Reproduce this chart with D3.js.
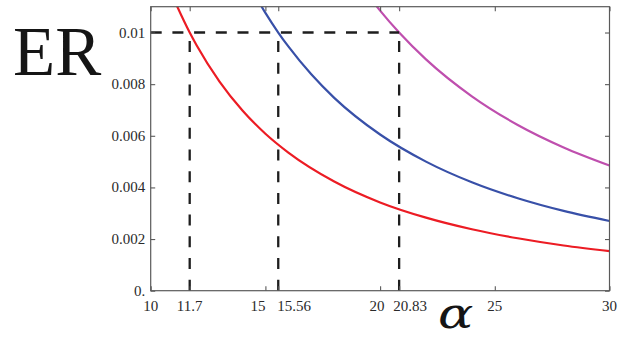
<!DOCTYPE html>
<html>
<head>
<meta charset="utf-8">
<script src="https://cdn.jsdelivr.net/npm/d3@7"></script>
<style>
  html, body { margin: 0; padding: 0; background: #fff; }
  svg { display: block; }
</style>
</head>
<body>
<svg id="chart" width="626" height="339"></svg>
<script>
// ---- data ----
const redAlpha   = [11.0, 11.7, 12, 13, 14, 15, 16, 18, 20, 22, 24, 26, 28, 30];
const redER      = [0.01131, 0.0100, 0.00951, 0.00810, 0.00698, 0.00608, 0.00535, 0.00423, 0.00342, 0.00283, 0.00238, 0.00203, 0.00175, 0.00153];
const blueAlpha  = [14.6, 15, 15.56, 16, 17, 18, 20, 22, 24, 26, 28, 30];
const blueER     = [0.01136, 0.01076, 0.0100, 0.00946, 0.00838, 0.00747, 0.00605, 0.00500, 0.00420, 0.00358, 0.00309, 0.00270];
const magAlpha   = [19.6, 20, 20.83, 22, 24, 26, 28, 30];
const magER      = [0.01130, 0.01085, 0.0100, 0.00896, 0.00753, 0.00642, 0.00555, 0.00485];
const threshold  = 0.01;
const crossings  = [11.7, 15.56, 20.83];
const xTicks     = [10, 11.7, 15, 15.56, 20, 20.83, 25, 30];
const xTickLabels= ["10", "11.7", "15", "15.56", "20", "20.83", "25", "30"];
const yTicks     = [0, 0.002, 0.004, 0.006, 0.008, 0.01];
const yTickLabels= ["0.", "0.002", "0.004", "0.006", "0.008", "0.01"];
const xDomain    = [10, 30];
const yDomain    = [0, 0.011];

// ---- layout ----
const svg = d3.select("#chart");
const L = 150.7, R = 609.5, T = 6.7, B = 290.7;
const x = d3.scaleLinear().domain(xDomain).range([L, R]);
const y = d3.scaleLinear().domain(yDomain).range([B, T]);
const frameColor = "#5a5a5a";
const textColor = "#2a2a2a";
const serif = "'Liberation Serif', 'Times New Roman', serif";

svg.append("defs").append("clipPath").attr("id", "plotclip")
  .append("rect").attr("x", L).attr("y", T).attr("width", R - L).attr("height", B - T);

// curves
const series = [
  { a: redAlpha,  v: redER,  color: "#ec1c24" },
  { a: blueAlpha, v: blueER, color: "#3850a8" },
  { a: magAlpha,  v: magER,  color: "#bf4fae" }
];
const line = d3.line().x(d => x(d[0])).y(d => y(d[1])).curve(d3.curveMonotoneX);
const gCurves = svg.append("g").attr("clip-path", "url(#plotclip)");
series.forEach(s => {
  gCurves.append("path")
    .datum(s.a.map((a, i) => [a, s.v[i]]))
    .attr("d", line)
    .attr("fill", "none")
    .attr("stroke", s.color)
    .attr("stroke-width", 2.2);
});

// dashed guide lines
const gDash = svg.append("g")
  .attr("stroke", "#1e1e1e").attr("stroke-width", 2.3)
  .attr("stroke-dasharray", "11,10.7").attr("fill", "none");
gDash.append("line")
  .attr("x1", x(xDomain[0])).attr("x2", x(d3.max(crossings)))
  .attr("y1", y(threshold)).attr("y2", y(threshold));
crossings.forEach(c => {
  gDash.append("line")
    .attr("x1", x(c)).attr("x2", x(c))
    .attr("y1", y(0)).attr("y2", y(threshold));
});

// frame
svg.append("rect")
  .attr("x", L).attr("y", T).attr("width", R - L).attr("height", B - T)
  .attr("fill", "none").attr("stroke", frameColor).attr("stroke-width", 1.2);

// axes with inward ticks
const tickLen = 4.5;
const xAxisB = d3.axisBottom(x).tickValues(xTicks).tickSize(-tickLen).tickFormat("");
const xAxisT = d3.axisTop(x).tickValues(xTicks).tickSize(-tickLen).tickFormat("");
const yAxisL = d3.axisLeft(y).tickValues(yTicks).tickSize(-tickLen).tickFormat("");
const yAxisR = d3.axisRight(y).tickValues(yTicks).tickSize(-tickLen).tickFormat("");
[[xAxisB, `translate(0,${B})`], [xAxisT, `translate(0,${T})`],
 [yAxisL, `translate(${L},0)`], [yAxisR, `translate(${R},0)`]].forEach(([ax, tr]) => {
  const g = svg.append("g").attr("transform", tr).call(ax);
  g.select(".domain").remove();
  g.selectAll(".tick line").attr("stroke", frameColor).attr("stroke-width", 1.1);
});

// x tick labels (placement adjusted to avoid overlaps, as in the reference)
const xLabelPlace = { "15": ["end", 0], "15.56": ["start", -1], "20": ["middle", -3], "20.83": ["start", -6] };
svg.append("g").selectAll("text")
  .data(xTicks)
  .join("text")
  .attr("x", (d, i) => x(d) + (xLabelPlace[xTickLabels[i]] ? xLabelPlace[xTickLabels[i]][1] : 0))
  .attr("y", 310.7)
  .attr("text-anchor", (d, i) => xLabelPlace[xTickLabels[i]] ? xLabelPlace[xTickLabels[i]][0] : "middle")
  .attr("font-family", serif).attr("font-size", 15).attr("fill", textColor)
  .text((d, i) => xTickLabels[i]);

// y tick labels
svg.append("g").selectAll("text")
  .data(yTicks)
  .join("text")
  .attr("x", L - 5.5)
  .attr("y", d => y(d) + 5)
  .attr("text-anchor", "end")
  .attr("font-family", serif).attr("font-size", 15).attr("fill", textColor)
  .text((d, i) => yTickLabels[i]);

// axis titles
svg.append("text")
  .attr("x", 13).attr("y", 75)
  .attr("font-family", serif).attr("font-size", 69).attr("fill", "#151515")
  .text("ER");
svg.append("text")
  .attr("x", 0).attr("y", 0)
  .attr("transform", "translate(438,328) scale(1.22,1)")
  .attr("font-family", "'DejaVu Serif', serif").attr("font-style", "italic")
  .attr("font-size", 43).attr("fill", "#151515")
  .text("α");
</script>
</body>
</html>
